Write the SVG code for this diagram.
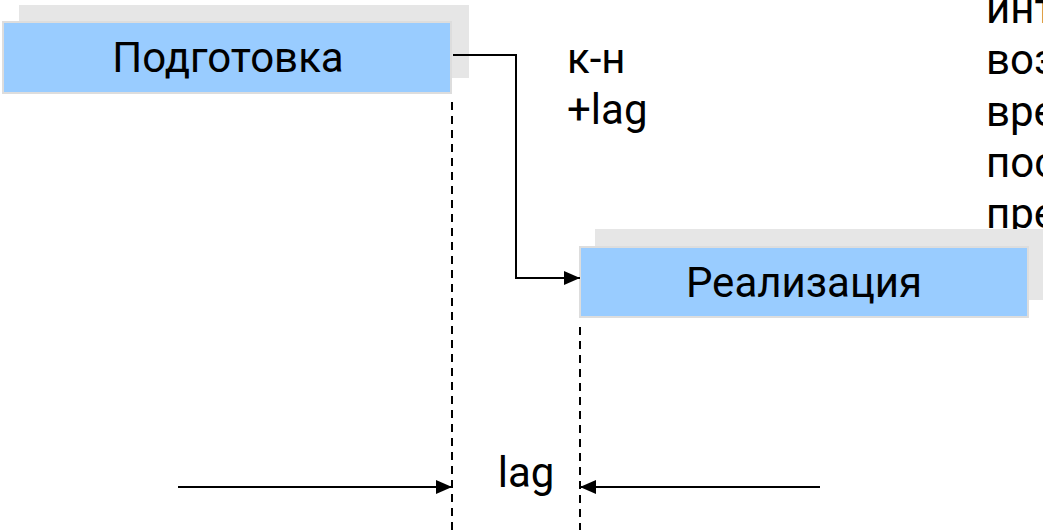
<svg xmlns="http://www.w3.org/2000/svg" width="1043" height="530" viewBox="0 0 1043 530">
  <style>
    .shadow { fill: #e6e6e6; }
    .task { fill: #99ccff; stroke: #dddddd; stroke-width: 2; }
    .label { font-family: Roboto, "Liberation Sans", sans-serif; font-size: 42px; fill: #000000; }
    .mid { text-anchor: middle; }
    .link { fill: none; stroke: #000000; stroke-width: 2; }
    .guide { fill: none; stroke: #000000; stroke-width: 2; stroke-dasharray: 8 6; }
  </style>
  <defs>
    <marker id="arrow" viewBox="0 0 16 14" refX="16" refY="7" markerWidth="16" markerHeight="14" markerUnits="userSpaceOnUse" orient="auto">
      <path d="M0,0 L16,7 L0,14 Z" fill="#000000"/>
    </marker>
  </defs>

  <rect width="1043" height="530" fill="#ffffff"/>

  <!-- side note, running past the right edge -->
  <g id="note" class="label">
    <text x="986" y="23">инт</text>
    <text x="986" y="74">воз</text>
    <text x="986" y="126">вре</text>
    <text x="986" y="177">пос</text>
    <text x="986" y="228">пре</text>
  </g>

  <g id="task-prep">
    <rect class="shadow" x="19" y="5" width="450" height="73"/>
    <rect class="task" x="3" y="22" width="448" height="71"/>
    <text class="label mid" x="228" y="72">Подготовка</text>
  </g>

  <g id="task-impl">
    <rect class="shadow" x="595" y="229" width="450" height="71"/>
    <rect class="task" x="580" y="247" width="448" height="70"/>
    <text class="label mid" x="804" y="297">Реализация</text>
  </g>

  <g id="connectors">
    <path class="link" d="M453,55 H516 V278 H580" marker-end="url(#arrow)"/>
    <line class="guide" x1="452" y1="102" x2="452" y2="530"/>
    <line class="guide" x1="580" y1="327" x2="580" y2="530"/>
    <line class="link" x1="178" y1="487" x2="452" y2="487" marker-end="url(#arrow)"/>
    <line class="link" x1="820" y1="487" x2="580" y2="487" marker-end="url(#arrow)"/>
  </g>

  <g id="labels" class="label">
    <text x="567" y="73">к-н</text>
    <text x="567" y="124">+lag</text>
    <text class="mid" x="526" y="487">lag</text>
  </g>
</svg>
